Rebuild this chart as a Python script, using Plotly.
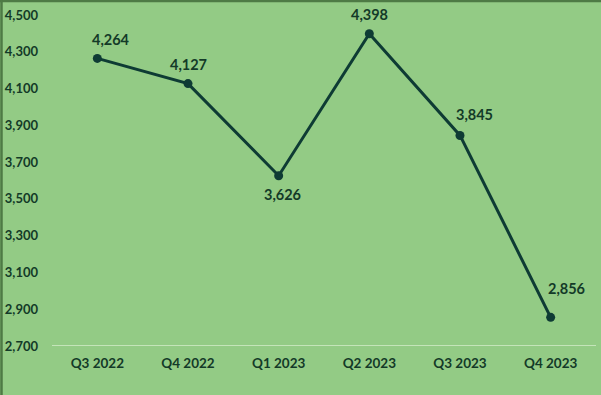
import plotly.graph_objects as go

quarters = ["Q3 2022", "Q4 2022", "Q1 2023", "Q2 2023", "Q3 2023", "Q4 2023"]
values = [4264, 4127, 3626, 4398, 3845, 2856]
y_ticks = [2700, 2900, 3100, 3300, 3500, 3700, 3900, 4100, 4300, 4500]

BG = "#93CB85"
DARK = "#0E3B34"
TXT = "#133A28"
FONT = "Lato"

fig = go.Figure()
fig.add_trace(go.Scatter(
    x=quarters, y=values, mode="lines+markers",
    line=dict(color=DARK, width=3),
    marker=dict(color=DARK, size=9),
    hoverinfo="skip",
))

# label offsets (pixels) per point: above for most, below for the trough
offsets = [(14, 19), (0, 19), (4, -19), (0, 19), (14, 21), (16, 29)]
for q, v, (dx, dy) in zip(quarters, values, offsets):
    fig.add_annotation(
        x=q, y=v, text=f"{v:,}", showarrow=False,
        xshift=dx, yshift=dy,
        font=dict(family=FONT, size=14.5, color=TXT, weight="bold"),
    )

fig.update_layout(
    width=601, height=395,
    margin=dict(l=52, r=5, t=15, b=49),
    paper_bgcolor=BG, plot_bgcolor=BG,
    showlegend=False,
    font=dict(family=FONT, color=TXT, size=13, weight="bold"),
    xaxis=dict(
        type="category", showgrid=False, zeroline=False,
        showline=False, ticks="", tickfont=dict(size=13.5, weight="bold"),
        ticklabelstandoff=7, range=[-0.5, 5.5],
    ),
    yaxis=dict(
        range=[2700, 4500], tickvals=y_ticks,
        ticktext=[f"{t:,}" for t in y_ticks],
        showgrid=False, zeroline=False, showline=False, ticks="",
        ticklabelstandoff=13, tickfont=dict(size=13, weight="bold"),
    ),
    shapes=[
        dict(type="line", xref="paper", yref="y", x0=0, x1=1, y0=2700, y1=2700,
             line=dict(color="#D4ECCB", width=1.5), layer="below"),
        dict(type="line", xref="paper", yref="paper",
             x0=-52/544, x1=1 + 5/544, y0=1 + 14/331, y1=1 + 14/331,
             line=dict(color="#4E7A45", width=2.5), layer="below"),
        dict(type="line", xref="paper", yref="paper",
             x0=-50.5/544, x1=-50.5/544, y0=-49/331, y1=1 + 15/331,
             line=dict(color="#4E7A45", width=2.5), layer="below"),
    ],
)

fig.write_html("out.html")
